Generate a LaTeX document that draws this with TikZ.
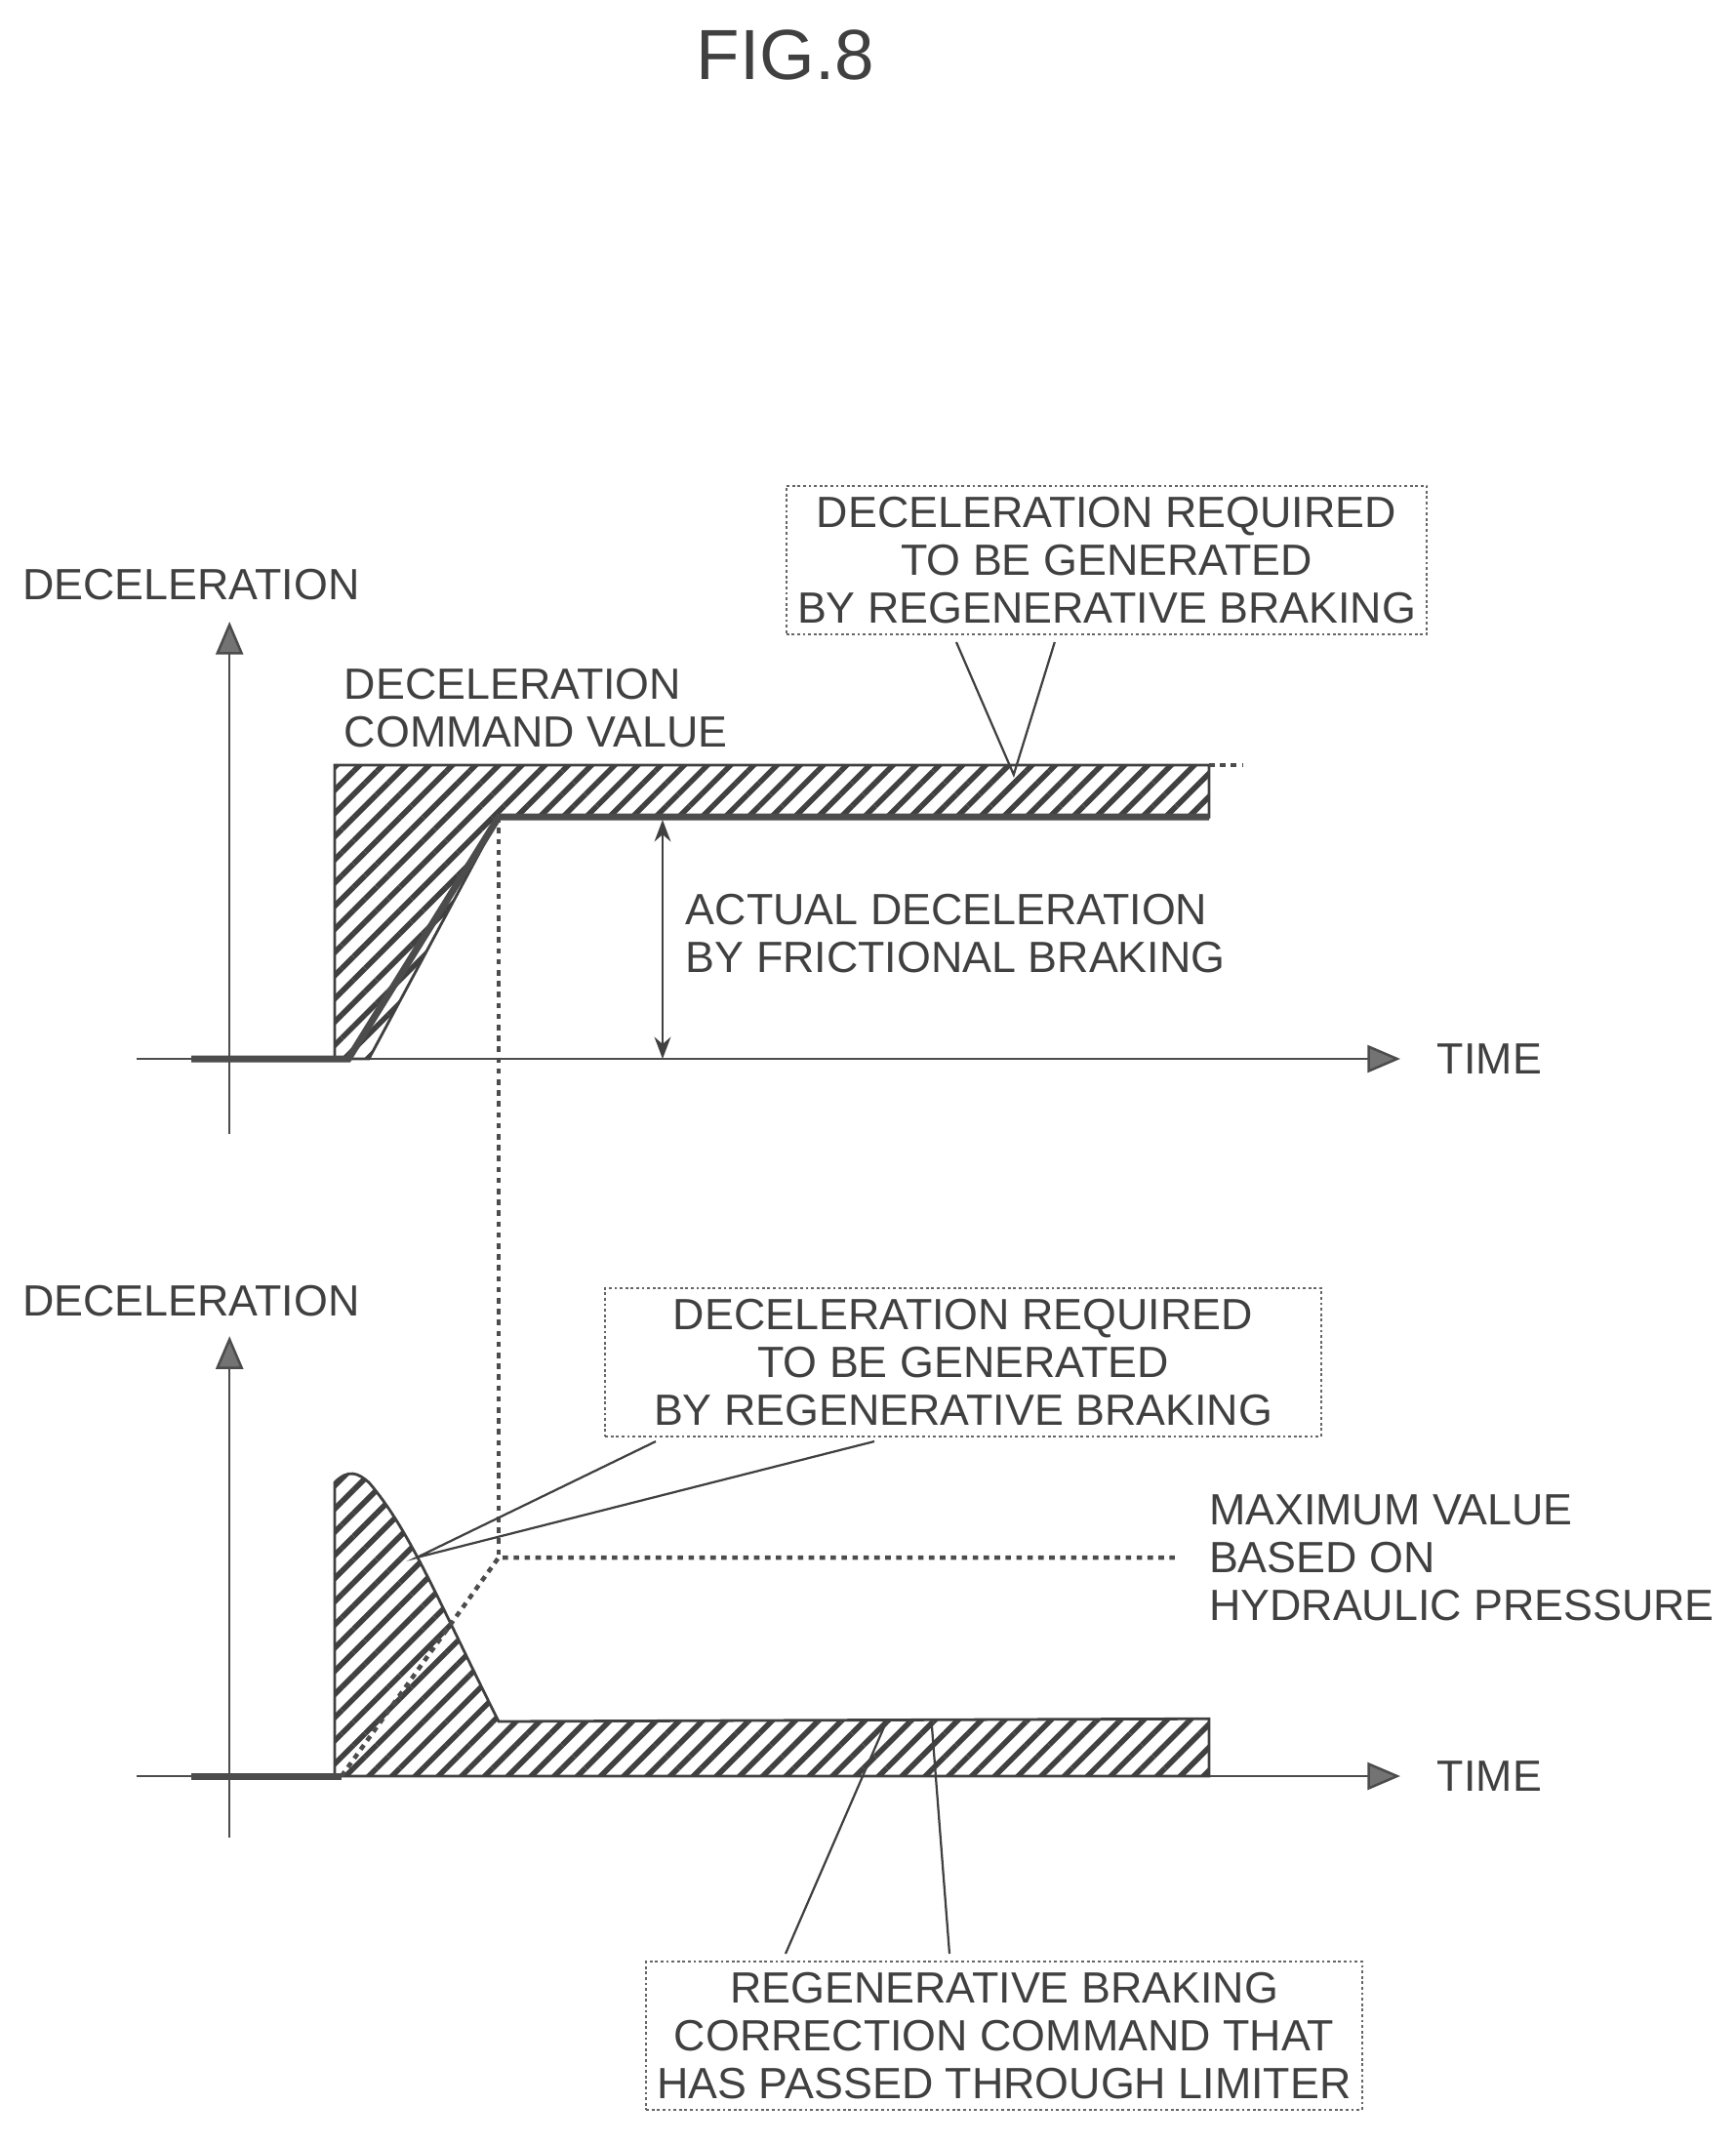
\documentclass[tikz,border=0pt]{standalone}
\usepackage{fontspec}
\setmainfont{Liberation Sans}
\usetikzlibrary{patterns.meta,arrows.meta}

\tikzset{
  axis/.style={draw=black!70,line width=0.9pt,-{Triangle[length=12pt,width=10pt,fill=black!55]}},
  hatch/.style={pattern={Lines[angle=45,distance=6pt,line width=2pt]},pattern color=black!75,draw=black!75,line width=1pt},
  dots/.style={draw=black!70,line width=1.6pt,dash pattern=on 2pt off 2pt},
  lbl/.style={font=\fontsize{16}{17.5}\selectfont,text=black!75,align=left},
  callout/.style={lbl,align=center,draw=black!60,dash pattern=on 1pt off 1pt,line width=0.8pt,inner sep=4pt},
  pointer/.style={draw=black!75,line width=0.8pt}
}

\begin{document}
\begin{tikzpicture}[x=0.5pt,y=-0.5pt]
\useasboundingbox (0,0) rectangle (1270,1570);

% title
\node (fig) at (575,40) {\fontsize{26}{28}\selectfont\color{black!75}FIG.8};

%top graph
\coordinate (t0) at (100,775);
\coordinate (tx) at (1025,775);
\coordinate (ty0) at (168,830);
\coordinate (ty) at (168,455);
\draw[axis] (t0) -- (tx);
\draw[axis] (ty0) -- (ty);
\node[lbl] (tyl) at (140,428) {DECELERATION};
\node[lbl,anchor=west] (txl) at (1045,775) {TIME};

% command value minus actual, hatched
\draw[hatch] (245,775) -- (245,560) -- (885,560) -- (885,598) -- (365,598) -- (270,775) -- cycle;
\draw[dots] (885,560) -- (910,560);
% actual deceleration
\draw[black!70,line width=2.5pt] (140,775) -- (255,775) -- (365,598) -- (885,598);
\node[lbl,anchor=west] (cmd) at (245,518) {DECELERATION\\COMMAND VALUE};

\coordinate (ra) at (485,600);
\coordinate (rb) at (485,775);
\draw[pointer,{Stealth[length=8pt]}-{Stealth[length=8pt]}] (ra) -- (rb);
\node[lbl,anchor=west] (act) at (495,683) {ACTUAL DECELERATION\\BY FRICTIONAL BRAKING};

\node[callout,minimum width=212pt] (reqt) at (810,410) {DECELERATION REQUIRED\\TO BE GENERATED\\BY REGENERATIVE BRAKING};
\coordinate (reqtp) at (742,567);
\draw[pointer] (700,470) -- (reqtp) -- (772,470);

% dotted link between graphs
\draw[dots] (365,598) -- (365,1140);

%bottom graph
\coordinate (b0) at (100,1300);
\coordinate (bx) at (1025,1300);
\coordinate (by0) at (168,1345);
\coordinate (by) at (168,978);
\draw[axis] (b0) -- (bx);
\draw[axis] (by0) -- (by);
\node[lbl] (byl) at (140,952) {DECELERATION};
\node[lbl,anchor=west] (bxl) at (1045,1300) {TIME};

\draw[hatch] (245,1300) -- (245,1085) .. controls (255,1075) and (262,1078) .. (270,1085)
  .. controls (300,1120) and (320,1170) .. (365,1260) -- (885,1258) -- (885,1300) -- cycle;
\draw[black!70,line width=2.5pt] (140,1300) -- (250,1300);
\draw[dots] (250,1300) -- (365,1140) -- (860,1140);
\node[lbl,anchor=west] (maxv) at (878,1140) {MAXIMUM VALUE\\BASED ON\\HYDRAULIC PRESSURE};

\node[callout,minimum width=262pt] (reqb) at (705,997) {DECELERATION REQUIRED\\TO BE GENERATED\\BY REGENERATIVE BRAKING};
\coordinate (reqbp) at (305,1140);
\draw[pointer] (480,1055) -- (reqbp) -- (640,1055);

\node[callout,minimum width=238pt] (corr) at (735,1490) {REGENERATIVE BRAKING\\CORRECTION COMMAND THAT\\HAS PASSED THROUGH LIMITER};
\coordinate (corra) at (648,1262);
\coordinate (corrb) at (682,1262);
\draw[pointer] (575,1430) -- (corra);
\draw[pointer] (695,1430) -- (corrb);

\end{tikzpicture}
\end{document}
